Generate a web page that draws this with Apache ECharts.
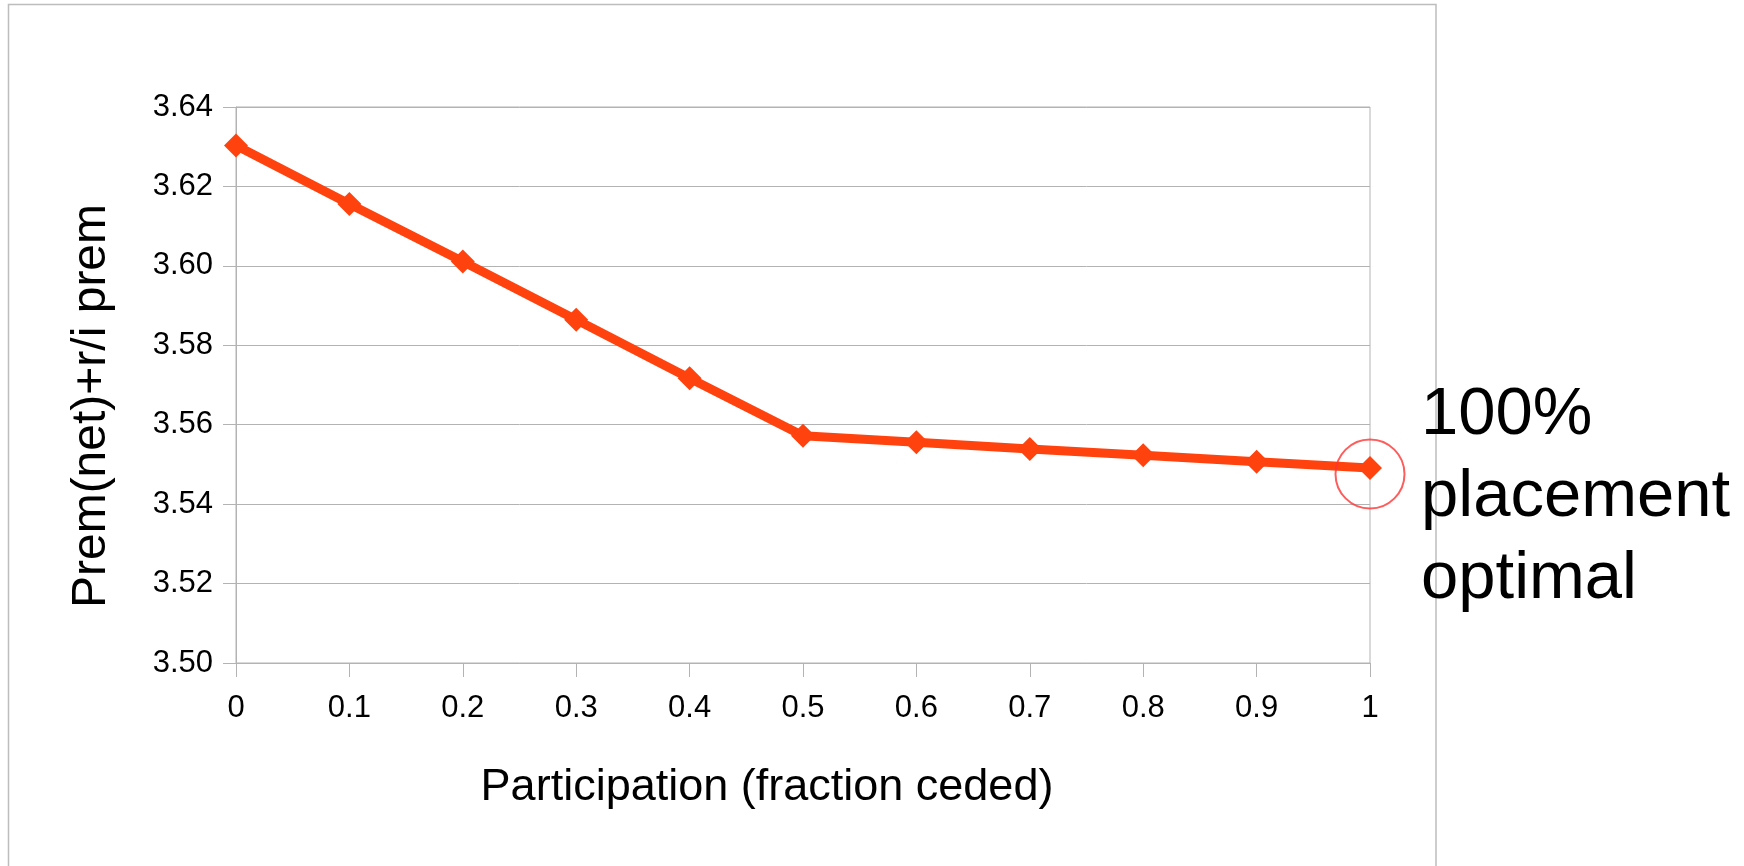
<!DOCTYPE html>
<html>
<head>
<meta charset="utf-8">
<script src="https://cdn.jsdelivr.net/npm/echarts@6/dist/echarts.min.js"></script>
<style>
  html, body { margin: 0; padding: 0; background: #ffffff; }
  #chart { width: 1744px; height: 866px; }
</style>
</head>
<body>
<div id="chart"></div>
<script>
// Participation levels (fraction ceded) and the resulting premium measure
const participation = [0, 0.1, 0.2, 0.3, 0.4, 0.5, 0.6, 0.7, 0.8, 0.9, 1];
const premium = [3.6303, 3.6156, 3.6011, 3.5864, 3.5717, 3.5572, 3.5556, 3.5539, 3.5523, 3.5507, 3.5491];
const xAxisTitle = 'Participation (fraction ceded)';
const yAxisTitle = 'Prem(net)+r/i prem';
const noteLines = ['100%', 'placement', 'optimal'];

const FONT = '"Liberation Sans", Arial, sans-serif';
const GRID_GREY = '#b3b3b3';

const points = participation.map((p, i) => [p, premium[i]]);
const lastIdx = participation.length - 1;

const chart = echarts.init(document.getElementById('chart'), null, { renderer: 'canvas' });

chart.setOption({
  backgroundColor: '#ffffff',
  animation: false,
  textStyle: { fontFamily: FONT },
  grid: {
    left: 236, right: 374, top: 107, bottom: 203,
    show: true, borderColor: GRID_GREY, borderWidth: 1
  },
  xAxis: {
    type: 'value',
    min: 0, max: 1, interval: 0.1,
    name: xAxisTitle,
    nameLocation: 'middle',
    nameGap: 102,
    nameTextStyle: { fontSize: 45, color: '#000', fontFamily: FONT, padding: [0, 72, 0, 0] },
    axisLine: { show: true, lineStyle: { color: GRID_GREY, width: 1 } },
    axisTick: { show: true, length: 14, lineStyle: { color: GRID_GREY, width: 1 } },
    axisLabel: {
      fontSize: 31, color: '#000', margin: 30, fontFamily: FONT,
      formatter: v => String(Math.round(v * 10) / 10)
    },
    splitLine: { show: false }
  },
  yAxis: {
    type: 'value',
    min: 3.5, max: 3.64, interval: 0.02,
    name: yAxisTitle,
    nameLocation: 'middle',
    nameGap: 120,
    nameTextStyle: { fontSize: 48, color: '#000', fontFamily: FONT, padding: [0, 42, 0, 0] },
    axisLine: { show: true, lineStyle: { color: GRID_GREY, width: 1 } },
    axisTick: { show: true, length: 13, lineStyle: { color: GRID_GREY, width: 1 } },
    axisLabel: {
      fontSize: 31, color: '#000', margin: 23, fontFamily: FONT,
      formatter: v => v.toFixed(2)
    },
    splitLine: { show: true, lineStyle: { color: GRID_GREY, width: 1 } }
  },
  series: [
    {
      name: yAxisTitle,
      type: 'line',
      data: points,
      symbol: 'diamond',
      symbolSize: 24,
      showAllSymbol: true,
      lineStyle: { color: '#ff420e', width: 9 },
      itemStyle: { color: '#ff420e' },
      z: 3
    },
    {
      // highlight ring around the full-placement point
      name: 'highlight',
      type: 'scatter',
      data: [points[lastIdx]],
      symbol: 'circle',
      symbolSize: 69,
      symbolOffset: [0, 6],
      silent: true,
      itemStyle: { color: 'rgba(0,0,0,0)', borderColor: '#ff3333', borderWidth: 2 },
      z: 4
    }
  ],
  graphic: [
    {
      type: 'rect',
      silent: true,
      shape: { x: 8.5, y: 4.5, width: 1427.5, height: 880 },
      style: { fill: 'none', stroke: '#bdbdbd', lineWidth: 1.5 },
      z: -1
    },
    {
      type: 'text',
      silent: true,
      left: 1421,
      top: 375,
      style: {
        text: noteLines.join('\n'),
        font: '67px ' + FONT,
        lineHeight: 82,
        fill: '#000'
      },
      z: 10
    }
  ]
});
</script>
</body>
</html>
